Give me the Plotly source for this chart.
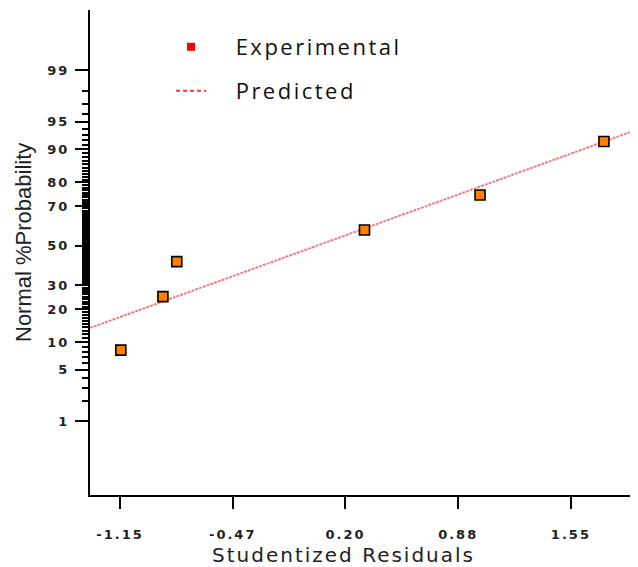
import plotly.graph_objects as go
from statistics import NormalDist

# ---- data ----
residuals = [-1.145, -0.893, -0.81, 0.314, 1.006, 1.748]          # studentized residuals
prob_pct = [8.33, 25.0, 41.67, 58.33, 75.0, 91.67]               # normal % probability
pred_x = [-1.33, 1.904]                                          # predicted line ends
pred_pct = [13.8, 93.4]
x_tickvals = [-1.15, -0.475, 0.20, 0.875, 1.55]
x_ticktext = ["-1.15", "-0.47", "0.20", "0.88", "1.55"]
y_major_pct = [1, 5, 10, 20, 30, 50, 70, 80, 90, 95, 99]
y_minor_pct = list(range(1, 100))

nd = NormalDist()
def z(p):
    return nd.inv_cdf(p / 100.0)

def spaced(t, ls):
    return f"<span style='letter-spacing:{ls}px'>{t}</span>"

fig = go.Figure()

fig.add_trace(go.Scatter(
    x=pred_x, y=[z(p) for p in pred_pct], mode="lines",
    line=dict(color="#f27f87", width=2, dash="3px,1px"),
    showlegend=False, hoverinfo="skip"))

fig.add_trace(go.Scatter(
    x=residuals, y=[z(p) for p in prob_pct], mode="markers",
    marker=dict(symbol="square", size=10, color="#ff8000",
                line=dict(color="black", width=1.6)),
    showlegend=False))

# legend-only entries
pad = "\u00a0\u00a0\u00a0"
fig.add_trace(go.Scatter(
    x=[None], y=[None], mode="markers", name=spaced(pad + "Experimental", 2.5),
    marker=dict(symbol="square", size=8, color="#ff0000"), legend="legend"))
fig.add_trace(go.Scatter(
    x=[None], y=[None], mode="lines", name=spaced(pad + "Predicted", 2.5),
    line=dict(color="#ff3030", width=2, dash="4px,3px"), legend="legend2"))

W, H = 638, 567
L, R, T, B = 90, 8, 10, 72
pw, ph = W - L - R, H - T - B
def px(xp):
    return (xp - L) / pw
def py(yp):
    return (H - B - yp) / ph

legfont = dict(family="Open Sans, Liberation Sans, sans-serif", size=22, color="#111")

fig.update_layout(
    width=W, height=H,
    margin=dict(l=L, r=R, t=T, b=B),
    plot_bgcolor="white", paper_bgcolor="white",
    legend=dict(x=px(171), y=py(47), xanchor="left", yanchor="middle",
                font=legfont, bgcolor="rgba(0,0,0,0)"),
    legend2=dict(x=px(171), y=py(91), xanchor="left", yanchor="middle",
                 font=legfont, bgcolor="rgba(0,0,0,0)"),
    xaxis=dict(
        range=[-1.3296, 1.904], showgrid=False, zeroline=False,
        showline=True, linecolor="black", linewidth=2,
        tickmode="array", tickvals=x_tickvals,
        ticktext=[spaced(t, 2) for t in x_ticktext],
        ticks="outside", ticklen=12, tickwidth=2, tickcolor="black",
        ticklabelstandoff=14,
        tickfont=dict(family="DejaVu Sans", size=13, color="#222", weight="bold")),
    yaxis=dict(
        range=[-3.305, 3.127], showgrid=False, zeroline=False,
        showline=True, linecolor="black", linewidth=2,
        tickmode="array", tickvals=[z(p) for p in y_major_pct],
        ticktext=[spaced(str(p), 2) for p in y_major_pct],
        ticks="outside", ticklen=13, tickwidth=2, tickcolor="black",
        ticklabelstandoff=3,
        tickfont=dict(family="DejaVu Sans", size=13, color="#222", weight="bold"),
        minor=dict(tickmode="array", tickvals=[z(p) for p in y_minor_pct],
                   ticks="outside", ticklen=6, tickwidth=1.8, tickcolor="black")),
    annotations=[
        dict(text=spaced("Studentized Residuals", 2),
             xref="paper", yref="paper", x=px(343), y=py(555),
             xanchor="center", yanchor="middle", showarrow=False,
             font=dict(family="DejaVu Sans", size=20, color="#222")),
        dict(text="Normal %Probability",
             xref="paper", yref="paper", x=px(24), y=py(243),
             xanchor="center", yanchor="middle", showarrow=False, textangle=-90,
             font=dict(family="Liberation Sans Narrow, Liberation Sans", size=22, color="#222")),
    ],
)

fig.write_html("out.html", config={"displayModeBar": False},
               post_script="document.body.style.margin='0';")
